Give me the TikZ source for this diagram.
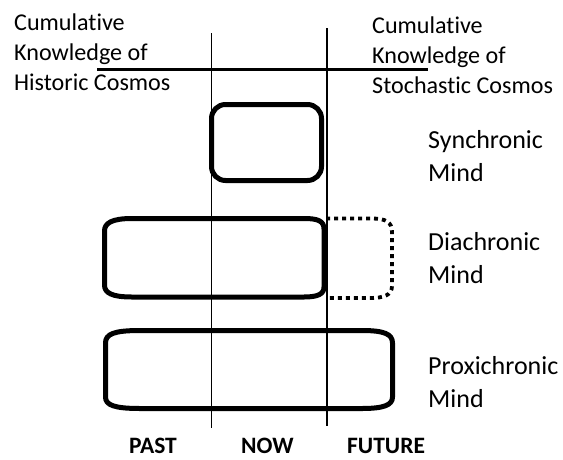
\documentclass[tikz,border=0pt]{standalone}
\usepackage{fontspec}
\setmainfont{Carlito}[Ligatures=NoCommon]
\begin{document}
\begin{tikzpicture}[x=1pt,y=-1pt,
  toplabel/.style={anchor=base west,inner sep=0pt,align=left,font=\fontsize{24.1}{30}\selectfont},
  mindlabel/.style={anchor=base west,inner sep=0pt,align=left,font=\fontsize{26}{33}\selectfont},
  timelabel/.style={anchor=base west,inner sep=0pt,font=\fontsize{23.5}{28}\selectfont\bfseries},
  mindbox/.style={line width=5pt,line join=round},
  dottedbox/.style={line width=3.8pt,dash pattern=on 4pt off 4pt},
  divider/.style={line width=1.1pt},
  knowline/.style={line width=2.8pt}]
\useasboundingbox (0,0) rectangle (563,459);
% texts (anchored at baseline of last line)
\node[toplabel] (hist) at (14,90) {Cumulative\\Knowledge of\\Historic Cosmos};
\node[toplabel] (stoch) at (372,93) {Cumulative\\Knowledge of\\Stochastic Cosmos};
\node[mindlabel] (syn) at (428,181) {Synchronic\\Mind};
\node[mindlabel] (dia) at (428,283) {Diachronic\\Mind};
\node[mindlabel] (prox) at (428,407) {Proxichronic\\Mind};
\node[timelabel] (past) at (129,453) {PAST};
\node[timelabel] (now) at (241,453) {NOW};
\node[timelabel] (future) at (347,453) {FUTURE};
% lines
\coordinate (kl) at (97,69.5);
\coordinate (kr) at (428,69.5);
\coordinate (v1t) at (211.5,33);
\coordinate (v1b) at (211.5,428);
\coordinate (v2t) at (327,28);
\coordinate (v2b) at (327,426);
\draw[divider] (v1t) -- (v1b);
\draw[divider] (v2t) -- (v2b);
\draw[knowline] (kl) -- (kr);
% synchronic box
\draw[mindbox,rounded corners=14pt] (211.5,104.5) rectangle (321.5,180.5);
% diachronic box
\draw[mindbox] (132,218.5) -- (304,218.5)
  .. controls (318,218.5) and (324,221) .. (324,229) -- (324,287)
  .. controls (324,294) and (318,297) .. (304,297) -- (132,297)
  .. controls (112,297) and (104.5,293) .. (104.5,285) -- (104.5,231)
  .. controls (104.5,223) and (112,218.5) .. (132,218.5) -- cycle;
\draw[dottedbox] (326,218.5) -- (372,218.5)
  .. controls (386,218.5) and (392,222) .. (392,232) -- (392,286)
  .. controls (392,295) and (384,298) .. (370,298) -- (326,298);
% proxichronic box
\draw[mindbox] (140,330.5) -- (362,330.5)
  .. controls (384,330.5) and (392.5,334) .. (392.5,343) -- (392.5,397)
  .. controls (392.5,405) and (384,408.5) .. (362,408.5) -- (140,408.5)
  .. controls (114,408.5) and (105.5,405) .. (105.5,397) -- (105.5,343)
  .. controls (105.5,334) and (114,330.5) .. (140,330.5) -- cycle;
\end{tikzpicture}
\end{document}
